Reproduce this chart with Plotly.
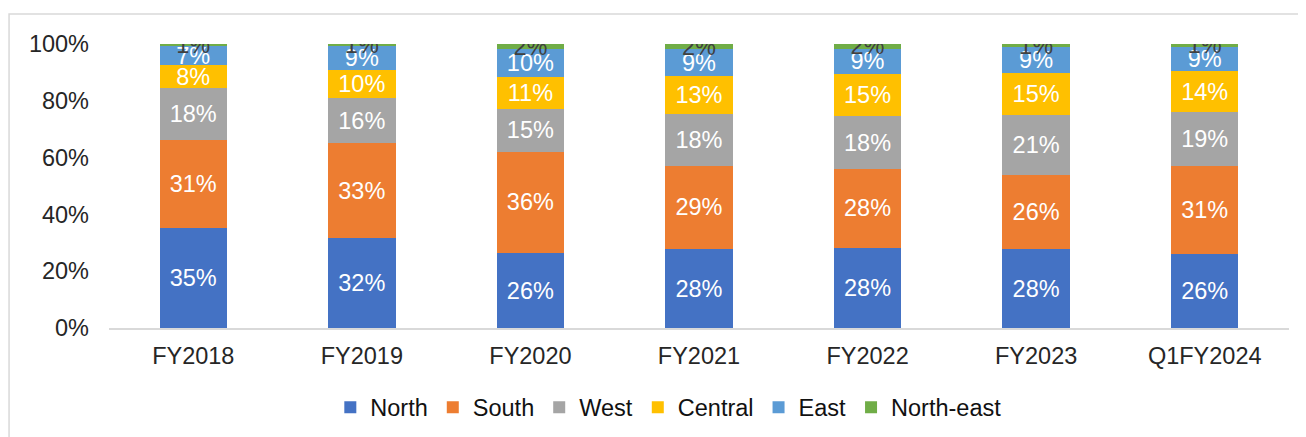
import plotly.graph_objects as go

# categories and regional shares (%)
years = ["FY2018", "FY2019", "FY2020", "FY2021", "FY2022", "FY2023", "Q1FY2024"]
north = [35.2, 31.7, 26.4, 27.8, 28.3, 27.8, 25.9]
south = [31.0, 33.4, 35.6, 29.4, 27.8, 26.0, 31.3]
west = [18.3, 15.8, 15.2, 18.1, 18.4, 21.2, 18.9]
central = [8.1, 9.8, 11.1, 13.4, 15.0, 14.9, 14.3]
east = [6.6, 8.6, 9.9, 9.4, 8.9, 9.0, 8.6]
north_east = [0.8, 0.7, 1.8, 1.9, 1.6, 1.1, 1.0]

y_ticks = [0, 20, 40, 60, 80, 100]
y_tick_labels = ["0%", "20%", "40%", "60%", "80%", "100%"]

series = [
    ("North", north, "#4472C4", "white"),
    ("South", south, "#ED7D31", "white"),
    ("West", west, "#A5A5A5", "white"),
    ("Central", central, "#FFC000", "white"),
    ("East", east, "#5B9BD5", "white"),
    ("North-east", north_east, "#70AD47", "#404040"),
]

FONT = "Liberation Sans, Arial, sans-serif"
SIZE = 23.5

fig = go.Figure()
for name, vals, color, txt in series:
    fig.add_trace(go.Bar(
        x=years,
        y=vals,
        name=name,
        marker=dict(color=color, line=dict(width=0)),
        texttemplate="%{y:.0f}%",
        textposition="inside",
        insidetextanchor="middle",
        constraintext="none",
        textangle=0,
        textfont=dict(color=txt, size=SIZE, family=FONT),
    ))

fig.update_layout(
    barmode="stack",
    bargap=0.6,
    width=1306,
    height=437,
    margin=dict(l=101, r=25, t=36, b=117),
    plot_bgcolor="white",
    paper_bgcolor="white",
    font=dict(family=FONT, size=SIZE, color="#262626"),
    showlegend=True,
    legend=dict(
        orientation="h",
        x=0.474, xanchor="center",
        y=-0.28, yanchor="middle",
        font=dict(size=SIZE, color="#111111"),
        itemwidth=30,
        traceorder="normal",
    ),
)
fig.update_yaxes(
    range=[0, 100],
    tickvals=y_ticks,
    ticktext=y_tick_labels,
    showgrid=False,
    zeroline=False,
    showline=False,
    ticklabelstandoff=19,
)
fig.update_xaxes(
    showline=True,
    linecolor="#D9D9D9",
    linewidth=1.5,
    showgrid=False,
    ticklabelstandoff=6,
)
# light frame around the chart area
fig.add_shape(
    type="rect", xref="paper", yref="paper",
    x0=-0.0847, x1=1.1, y0=-0.6, y1=1.1056,
    line=dict(color="#D9D9D9", width=1.5),
    fillcolor="rgba(0,0,0,0)", layer="below",
)

fig.write_html("out.html")
